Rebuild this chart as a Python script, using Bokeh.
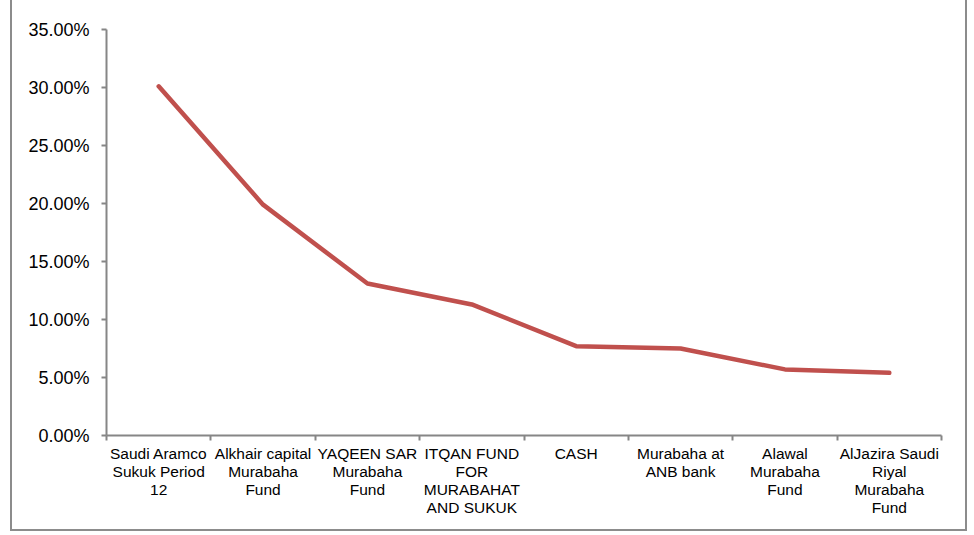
from bokeh.plotting import figure
from bokeh.models import (Range1d, FixedTicker, NumeralTickFormatter)
from bokeh.embed import file_html
from bokeh.resources import INLINE

categories = [
    "Saudi Aramco\nSukuk Period\n12",
    "Alkhair capital\nMurabaha\nFund",
    "YAQEEN SAR\nMurabaha\nFund",
    "ITQAN FUND\nFOR\nMURABAHAT\nAND SUKUK",
    "CASH",
    "Murabaha at\nANB bank",
    "Alawal\nMurabaha\nFund",
    "AlJazira Saudi\nRiyal\nMurabaha\nFund",
]
weights = [0.301, 0.199, 0.131, 0.113, 0.077, 0.075, 0.057, 0.054]
y_ticks = [0.0, 0.05, 0.10, 0.15, 0.20, 0.25, 0.30, 0.35]

n = len(categories)
xs = [i + 0.5 for i in range(n)]

p = figure(width=957, height=531, output_backend="svg", toolbar_location=None,
           x_range=Range1d(0, n), y_range=Range1d(0, 0.35),
           min_border_left=94, min_border_right=28, min_border_top=29, min_border_bottom=96)
p.background_fill_color = "white"
p.border_fill_color = "white"
p.outline_line_color = None
p.xgrid.visible = False
p.ygrid.visible = False
p.styles = {"border-left": "2px solid #8c8c8c", "border-right": "2px solid #8c8c8c",
            "border-bottom": "2px solid #8c8c8c", "margin-left": "10px"}

p.line(xs, weights, line_color="#C0504D", line_width=4.5, line_cap="round", line_join="round")

axis_col = "#868686"
font = "Liberation Sans"

xa = p.xaxis[0]
xa.ticker = FixedTicker(ticks=xs, minor_ticks=list(range(n + 1)))
xa.major_label_overrides = {x: c for x, c in zip(xs, categories)}
xa.major_tick_line_color = None
xa.minor_tick_line_color = axis_col
xa.minor_tick_in = 0
xa.minor_tick_out = 5
xa.minor_tick_line_width = 2
xa.axis_line_color = axis_col
xa.axis_line_width = 2
xa.major_label_text_font = font
xa.major_label_text_font_size = "15.5px"
xa.major_label_text_color = "black"
xa.major_label_standoff = 3
xa.major_label_text_line_height = 1.06

ya = p.yaxis[0]
ya.ticker = FixedTicker(ticks=y_ticks)
ya.formatter = NumeralTickFormatter(format="0.00%")
ya.minor_tick_line_color = None
ya.major_tick_line_color = axis_col
ya.major_tick_line_width = 2
ya.major_tick_in = 0
ya.major_tick_out = 5
ya.axis_line_color = axis_col
ya.axis_line_width = 2
ya.major_label_text_font = font
ya.major_label_text_font_size = "18px"
ya.major_label_text_color = "black"
ya.major_label_standoff = 12

open("out.html", "w").write(file_html(p, INLINE))
